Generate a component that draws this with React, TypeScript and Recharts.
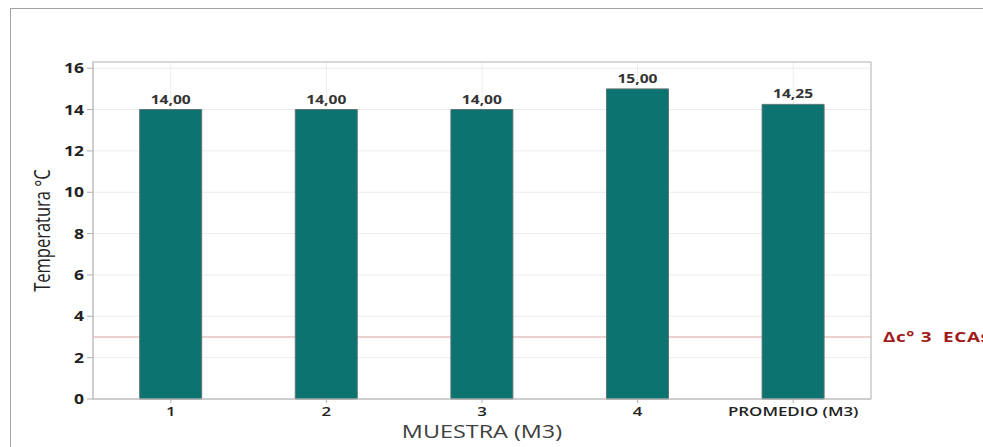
import { Bar, BarChart, CartesianGrid, LabelList, ReferenceLine, XAxis, YAxis, usePlotArea } from "recharts";

const muestras = ["1", "2", "3", "4", "PROMEDIO (M3)"];
const temperaturas = [14.0, 14.0, 14.0, 15.0, 14.25];
const yTicks = [0, 2, 4, 6, 8, 10, 12, 14, 16];
const eca = 3;

const data = muestras.map((name, i) => ({ name, temp: temperaturas[i] }));

const font = "'Open Sans', 'Noto Sans', sans-serif";
// the source picture is stretched sideways, so text gets widened too
const SX = 1.3;

function comma(v: number | string): string {
  return Number(v).toFixed(2).replace(".", ",");
}

function Wide({ x, y, anchor = "middle", size, weight = 400, fill = "#222", spacing = 0, children }: any) {
  return (
    <text
      transform={`translate(${x} ${y}) scale(${SX} 1)`}
      textAnchor={anchor}
      fontFamily={font}
      fontSize={size}
      fontWeight={weight}
      fill={fill}
      letterSpacing={spacing}
      style={{ whiteSpace: "pre" }}
    >
      {children}
    </text>
  );
}

function PlotFrame() {
  const area = usePlotArea();
  if (!area) return null;
  return (
    <rect x={area.x} y={area.y} width={area.width} height={area.height} fill="none" stroke="#c4c4c4" strokeWidth={1.2} />
  );
}

export default function App() {
  return (
    <div style={{ position: "relative", width: 983, height: 447, overflow: "hidden", background: "#fff" }}>
      <style>{`body{margin:0}`}</style>
      <div
        style={{
          position: "absolute",
          left: 10,
          top: 8,
          width: 1100,
          height: 600,
          border: "1.5px solid #a3a3a3",
        }}
      />
      <div style={{ position: "absolute", left: 0, top: 0 }}>
        <BarChart
          width={983}
          height={447}
          data={data}
          margin={{ top: 62, right: 112, left: 0, bottom: 0 }}
          barCategoryGap="30%"
        >
          <CartesianGrid stroke="#ececec" vertical horizontal />
          <ReferenceLine
            y={eca}
            stroke="#d9a3a3"
            strokeWidth={1.2}
            zIndex={50}
            label={{
              content: ({ viewBox }: any) => (
                <Wide
                  x={viewBox.x + viewBox.width + 12}
                  y={viewBox.y + 5}
                  anchor="start"
                  size={14.5}
                  weight={700}
                  spacing={0.5}
                  fill="#a11a1a"
                >
                  {`Δc° ${eca}  ECAs`}
                </Wide>
              ),
            }}
          />
          <XAxis
            dataKey="name"
            height={48}
            tickSize={4}
            tickMargin={2}
            axisLine={{ stroke: "#c4c4c4" }}
            tickLine={{ stroke: "#b0b0b0" }}
            tick={({ x, y, payload }: any) => (
              <Wide x={x} y={y + 11} size={13} weight={600}>
                {payload.value}
              </Wide>
            )}
            label={{
              content: ({ viewBox }: any) => (
                <Wide x={viewBox.x + viewBox.width / 2} y={viewBox.y + 39} size={18} fill="#404040">
                  MUESTRA (M3)
                </Wide>
              ),
            }}
          />
          <YAxis
            width={93}
            domain={[0, 16.3]}
            ticks={yTicks}
            interval={0}
            tickSize={6}
            tickMargin={3}
            axisLine={{ stroke: "#c4c4c4" }}
            tickLine={{ stroke: "#b0b0b0" }}
            tick={({ x, y, payload }: any) => (
              <Wide x={x} y={y + 5} anchor="end" size={13.5} weight={700}>
                {payload.value}
              </Wide>
            )}
            label={{
              content: ({ viewBox }: any) => {
                const cx = 42;
                const cy = viewBox.y + viewBox.height / 2;
                return (
                  <text
                    transform={`translate(${cx} ${cy}) rotate(-90) scale(1 ${SX})`}
                    textAnchor="middle"
                    dominantBaseline="central"
                    fontFamily={font}
                    fontSize={16.5}
                    fill="#222"
                  >
                    Temperatura °C
                  </text>
                );
              },
            }}
          />
          <Bar dataKey="temp" fill="#0c7370" stroke="#5b7574" strokeWidth={1} isAnimationActive={false}>
            <LabelList
              dataKey="temp"
              content={({ x, y, width, value }: any) => (
                <Wide x={x + width / 2} y={y - 6} size={12} weight={700} fill="#333">
                  {comma(value)}
                </Wide>
              )}
            />
          </Bar>
          <PlotFrame />
        </BarChart>
      </div>
    </div>
  );
}
